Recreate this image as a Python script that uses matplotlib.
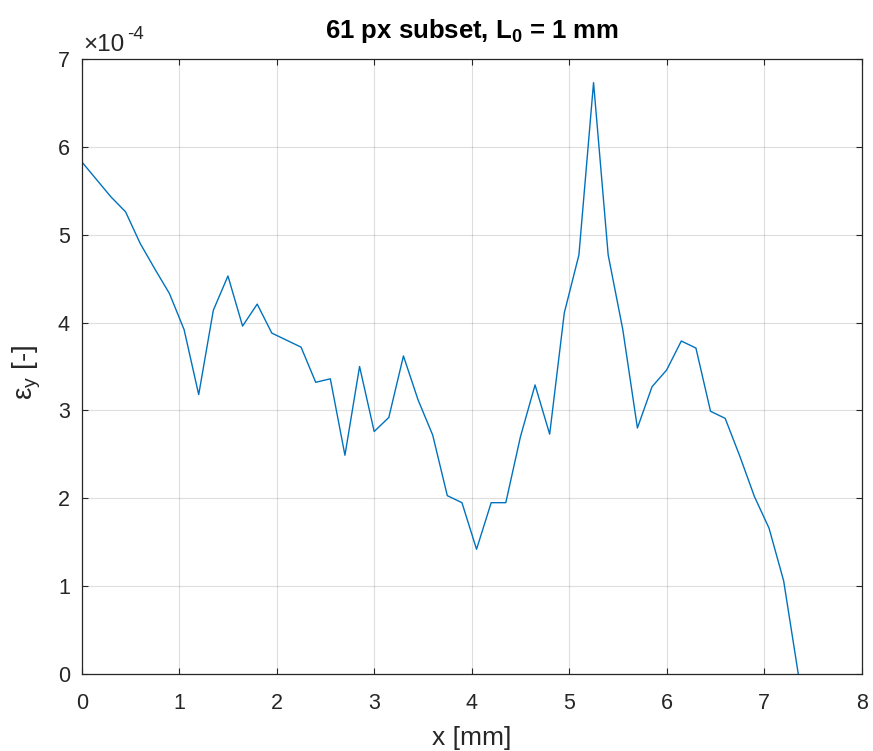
import numpy as np
import matplotlib
matplotlib.use("Agg")
import matplotlib.pyplot as plt
from matplotlib.ticker import FuncFormatter

plt.rcParams['font.family'] = ['Liberation Sans', 'DejaVu Sans']
plt.rcParams['mathtext.fontset'] = 'custom'
plt.rcParams['mathtext.rm'] = 'Liberation Sans'
plt.rcParams['mathtext.it'] = 'Liberation Sans:italic'
plt.rcParams['mathtext.bf'] = 'Liberation Sans:bold'

# position along the line [mm], step 0.15 mm
x_mm = np.arange(50) * 0.15

# strain values, in units of 1e-4
eps_e4 = [5.83, 5.63, 5.43, 5.26, 4.90, 4.61, 4.33, 3.92, 3.18, 4.14,
          4.53, 3.96, 4.21, 3.88, 3.80, 3.72, 3.32, 3.36, 2.49, 3.50,
          2.76, 2.92, 3.62, 3.12, 2.72, 2.03, 1.95, 1.42, 1.95, 1.95,
          2.70, 3.29, 2.73, 4.11, 4.77, 6.73, 4.77, 3.92, 2.80, 3.27,
          3.46, 3.79, 3.71, 2.99, 2.91, 2.48, 2.02, 1.66, 1.06, 0.0]
eps_y = np.array(eps_e4) * 1e-4

dark = '#262626'

fig = plt.figure(figsize=(8.73, 7.51), dpi=100)
ax = fig.add_axes([0.0936, 0.1025, 0.8934, 0.819])

ax.plot(x_mm, eps_y, color='#0072BD', lw=1.0)

ax.set_xlim(0, 8)
ax.set_ylim(0, 7e-4)
ax.set_xticks(range(9))
ax.set_yticks(np.arange(8) * 1e-4)
ax.yaxis.set_major_formatter(FuncFormatter(lambda v, p: f"{v * 1e4:.0f}"))

ax.grid(True, color='#000000', alpha=0.13, lw=0.8)
ax.set_axisbelow(True)
ax.tick_params(direction='in', length=4.3, width=0.8, color=dark,
               labelcolor=dark, labelsize=15.5, top=True, right=True)
ax.tick_params(axis='x', pad=13.5)
ax.tick_params(axis='y', pad=8.5)
for s in ax.spines.values():
    s.set_color(dark)
    s.set_linewidth(0.9)

# exponent label above the y axis, like MATLAB
ax.text(0.002, 1.004, '×10', transform=ax.transAxes,
        fontsize=17.5, color=dark, ha='left', va='bottom')
ax.text(0.058, 1.026, '-4', transform=ax.transAxes,
        fontsize=13.5, color=dark, ha='left', va='bottom')

ax.set_title(r'61 px subset, L$_{\mathbf{0}}$ = 1 mm', fontsize=18.5,
             fontweight='bold', color='black', pad=15)
ax.set_xlabel('x [mm]', fontsize=19, color=dark)
ax.xaxis.set_label_coords(0.5, -0.085)
ax.set_ylabel(r'ε$_{\mathrm{y}}$ [-]', fontsize=20, color=dark)
ax.yaxis.set_label_coords(-0.05, 0.49)

fig.savefig('out.png', dpi=100)
